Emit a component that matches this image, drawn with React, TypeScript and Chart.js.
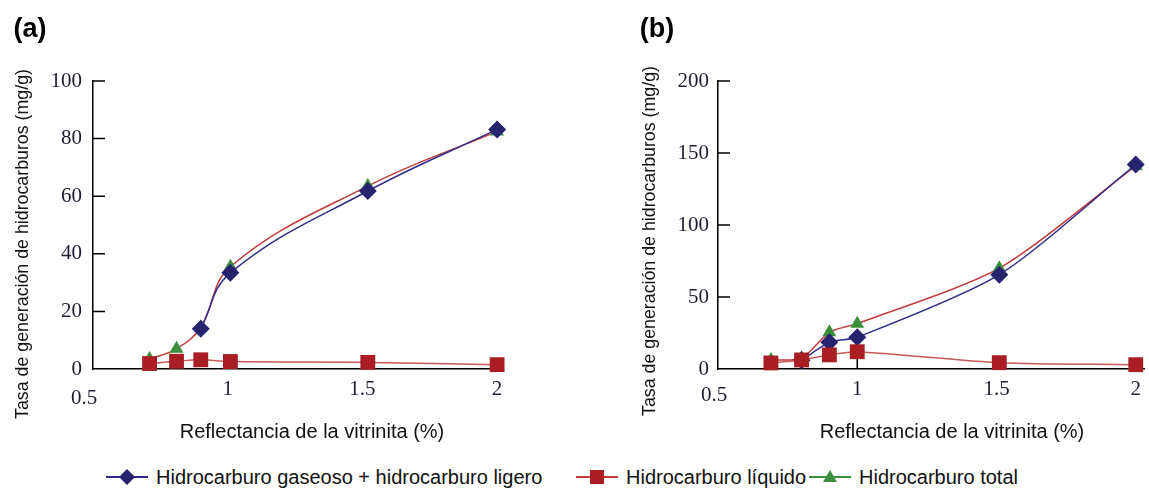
import React, { useEffect, useRef } from 'react';
import { Chart, registerables } from 'chart.js';

Chart.register(...registerables);

// ---------- data ----------
const seriesNames = [
  'Hidrocarburo gaseoso + hidrocarburo ligero',
  'Hidrocarburo líquido',
  'Hidrocarburo total',
];

// panel (a)
const xA = [0.71, 0.81, 0.9, 1.01, 1.52, 2.0];
const gasA = [null, null, 14, 33.4, 61.8, 83.2];
const liqA = [1.9, 2.7, 3.2, 2.6, 2.3, 1.5];
const totA = [3.5, 7, 14.5, 35.5, 63.5, 82.5];

// panel (b)
const xB = [0.69, 0.8, 0.9, 1.0, 1.51, 2.0];
const gasB = [null, 6, 18.5, 22, 65.5, 142];
const liqB = [4.2, 6.3, 9.8, 12, 4.4, 3];
const totB = [6.3, 7.5, 25.5, 31.5, 70, 141];

const xTicks = [0.5, 1, 1.5, 2];
const xTickLabels = ['0.5', '1', '1.5', '2'];
const yTicksA = [0, 20, 40, 60, 80, 100];
const yTicksB = [0, 50, 100, 150, 200];

const xTitle = 'Reflectancia de la vitrinita (%)';
const yTitle = 'Tasa de generación de hidrocarburos (mg/g)';

// ---------- styles ----------
const BLUE = '#27236f';
const BLUE_LINE = '#2e2c86';
const RED = '#a81e22';
const RED_LINE = '#c23a3a';
const RED_LIGHT = '#c85a5a';
const GREEN = '#3b8f3b';
const TICK_FONT = { family: '"Liberation Serif", "Times New Roman", serif', size: 21 };
const TICK_COLOR = '#1f1d33';

const pts = (xs: number[], ys: (number | null)[]) =>
  xs.map((x, i) => ({ x, y: ys[i] })).filter((p) => p.y !== null);

const decorPlugin = {
  id: 'decor',
  beforeDatasetsDraw(chart: any) {
    const { ctx, chartArea } = chart;
    const xs = chart.scales.x;
    const ys = chart.scales.y;
    ctx.save();
    ctx.strokeStyle = '#000';
    ctx.lineWidth = 1.5;
    ctx.beginPath();
    ys.ticks.forEach((t: any) => {
      if (t.value === ys.min) return;
      const py = ys.getPixelForValue(t.value);
      ctx.moveTo(chartArea.left, py);
      ctx.lineTo(chartArea.left + 12, py);
    });
    xs.ticks.forEach((t: any) => {
      if (t.value === xs.min) return;
      const px = xs.getPixelForValue(t.value);
      ctx.moveTo(px, chartArea.bottom);
      ctx.lineTo(px, chartArea.bottom - 10);
    });
    ctx.stroke();
    ctx.restore();
  },
  afterDraw(chart: any, _args: any, opts: any) {
    const { ctx, chartArea } = chart;
    const xs = chart.scales.x;
    ctx.save();
    ctx.textAlign = 'center';
    ctx.textBaseline = 'middle';
    ctx.fillStyle = TICK_COLOR;
    ctx.font = `${TICK_FONT.size}px ${TICK_FONT.family}`;
    ctx.fillText(xTickLabels[0], xs.getPixelForValue(xTicks[0]) + opts.originDx, chartArea.bottom + opts.originDy);
    (opts.texts || []).forEach((t: any) => {
      ctx.save();
      ctx.fillStyle = t.color || '#111';
      ctx.font = t.font;
      ctx.translate(t.x, t.y);
      if (t.rot) ctx.rotate(t.rot);
      ctx.fillText(t.text, 0, 0);
      ctx.restore();
    });
    ctx.restore();
  },
};

function makeConfig(p: any) {
  const lineOpts = { tension: p.tension };
  return {
    type: 'scatter' as const,
    data: {
      datasets: [
        {
          label: seriesNames[1],
          data: pts(p.xs, p.liq),
          showLine: true,
          borderColor: RED_LIGHT,
          borderWidth: 1.5,
          backgroundColor: RED,
          pointStyle: 'rect',
          pointRadius: 10.5,
          pointBorderWidth: 0,
          clip: false,
          ...lineOpts,
        },
        {
          label: seriesNames[0],
          data: pts(p.xs, p.gas),
          showLine: true,
          borderColor: BLUE_LINE,
          borderWidth: 1.5,
          backgroundColor: BLUE,
          pointStyle: 'rectRot',
          pointRadius: 9,
          pointBorderWidth: 0,
          clip: false,
          ...lineOpts,
        },
        {
          label: seriesNames[2],
          data: pts(p.xs, p.tot),
          showLine: true,
          borderColor: RED_LINE,
          borderWidth: 1.5,
          backgroundColor: GREEN,
          pointStyle: 'triangle',
          pointRadius: 8,
          pointBorderWidth: 0,
          clip: false,
          ...lineOpts,
        },
      ],
    },
    options: {
      responsive: false,
      animation: false as const,
      events: [],
      layout: {
        padding: { top: 81, left: 0, right: p.padRight, bottom: 0 },
        autoPadding: false,
      },
      scales: {
        x: {
          type: 'linear' as const,
          min: 0.5,
          max: p.xMax,
          afterBuildTicks: (s: any) => {
            s.ticks = xTicks.map((v) => ({ value: v }));
          },
          afterFit: (s: any) => {
            s.height = 81;
          },
          ticks: {
            callback: (v: any) => {
              const i = xTicks.indexOf(Number(v));
              return i <= 0 ? '' : xTickLabels[i];
            },
            font: TICK_FONT,
            color: TICK_COLOR,
            padding: 8,
            maxRotation: 0,
            autoSkip: false,
          },
          grid: { display: false, drawTicks: false, tickLength: 0 },
          border: { display: true, color: '#000', width: 1.5 },
        },
        y: {
          type: 'linear' as const,
          min: 0,
          max: p.yMax,
          afterBuildTicks: (s: any) => {
            s.ticks = p.yTicks.map((v: number) => ({ value: v }));
          },
          afterFit: (s: any) => {
            s.width = p.yWidth;
          },
          ticks: {
            font: TICK_FONT,
            color: TICK_COLOR,
            padding: p.yPad,
            autoSkip: false,
          },
          grid: { display: false, drawTicks: false, tickLength: 0 },
          border: { display: true, color: '#000', width: 1.5 },
        },
      },
      plugins: {
        legend: { display: false },
        tooltip: { enabled: false },
        decor: { texts: p.texts, originDx: p.originDx, originDy: p.originDy },
      },
    },
    plugins: [decorPlugin],
  };
}

const TITLE_X_FONT = '20px "Liberation Sans", Arial, sans-serif';
const TITLE_Y_FONT = '17.8px "Liberation Sans", Arial, sans-serif';
const PANEL_FONT = 'bold 27px "Liberation Sans", Arial, sans-serif';

function ChartCanvas({ config, width, height, left }: any) {
  const ref = useRef<HTMLCanvasElement | null>(null);
  useEffect(() => {
    if (!ref.current) return;
    const chart = new Chart(ref.current, config);
    return () => chart.destroy();
  }, []);
  return (
    <canvas
      ref={ref}
      width={width}
      height={height}
      style={{ position: 'absolute', left, top: 0, width, height }}
    />
  );
}

function LegendIcon({ kind }: { kind: number }) {
  const w = 42;
  if (kind === 0) {
    return (
      <svg width={w} height={22} style={{ display: 'block' }}>
        <line x1={0} y1={11} x2={w} y2={11} stroke={BLUE_LINE} strokeWidth={2} />
        <polygon points={`${w / 2},3 ${w / 2 + 8},11 ${w / 2},19 ${w / 2 - 8},11`} fill={BLUE} />
      </svg>
    );
  }
  if (kind === 1) {
    return (
      <svg width={w} height={22} style={{ display: 'block' }}>
        <line x1={0} y1={11} x2={w} y2={11} stroke={RED_LINE} strokeWidth={2} />
        <rect x={w / 2 - 7} y={4} width={14} height={14} fill={RED} />
      </svg>
    );
  }
  return (
    <svg width={w} height={22} style={{ display: 'block' }}>
      <line x1={0} y1={11} x2={w} y2={11} stroke={GREEN} strokeWidth={2} />
      <polygon points={`${w / 2},4 ${w / 2 + 7},16 ${w / 2 - 7},16`} fill={GREEN} />
    </svg>
  );
}

const legendLefts = [106, 576, 809];
const legendKinds = [0, 1, 2];

export default function App() {
  const configA = makeConfig({
    xs: xA,
    gas: gasA,
    liq: liqA,
    tot: totA,
    yMax: 100,
    yTicks: yTicksA,
    xMax: 2.02,
    yWidth: 93,
    padRight: 57.5,
    yPad: 11,
    tension: 0.4,
    originDx: -9,
    originDy: 29,
    texts: [
      { text: '(a)', x: 30, y: 30, font: PANEL_FONT, color: '#000' },
      { text: xTitle, x: 312, y: 432, font: TITLE_X_FONT, color: '#111' },
      { text: yTitle, x: 23.5, y: 244, font: TITLE_Y_FONT, color: '#111', rot: -Math.PI / 2 },
    ],
  });
  const configB = makeConfig({
    xs: xB,
    gas: gasB,
    liq: liqB,
    tot: totB,
    yMax: 200,
    yTicks: yTicksB,
    xMax: 2.032,
    yWidth: 128,
    padRight: 0,
    yPad: 9,
    tension: 0.25,
    originDx: -4,
    originDy: 26,
    texts: [
      { text: '(b)', x: 67, y: 30, font: PANEL_FONT, color: '#000' },
      { text: xTitle, x: 362, y: 432, font: TITLE_X_FONT, color: '#111' },
      { text: yTitle, x: 60, y: 241, font: TITLE_Y_FONT, color: '#111', rot: -Math.PI / 2 },
    ],
  });

  return (
    <div
      style={{
        position: 'fixed',
        left: 0,
        top: 0,
        width: 1149,
        height: 489,
        background: '#fff',
        overflow: 'hidden',
      }}
    >
      <ChartCanvas config={configA} width={560} height={450} left={0} />
      <ChartCanvas config={configB} width={559} height={450} left={590} />
      {legendKinds.map((k) => (
        <div
          key={k}
          style={{
            position: 'absolute',
            left: legendLefts[k],
            top: 466,
            display: 'flex',
            alignItems: 'center',
            fontFamily: '"Liberation Sans", Arial, sans-serif',
            fontSize: 20,
            color: '#111',
            whiteSpace: 'nowrap',
            lineHeight: '22px',
          }}
        >
          <LegendIcon kind={k} />
          <span style={{ marginLeft: 8 }}>{seriesNames[k]}</span>
        </div>
      ))}
    </div>
  );
}
